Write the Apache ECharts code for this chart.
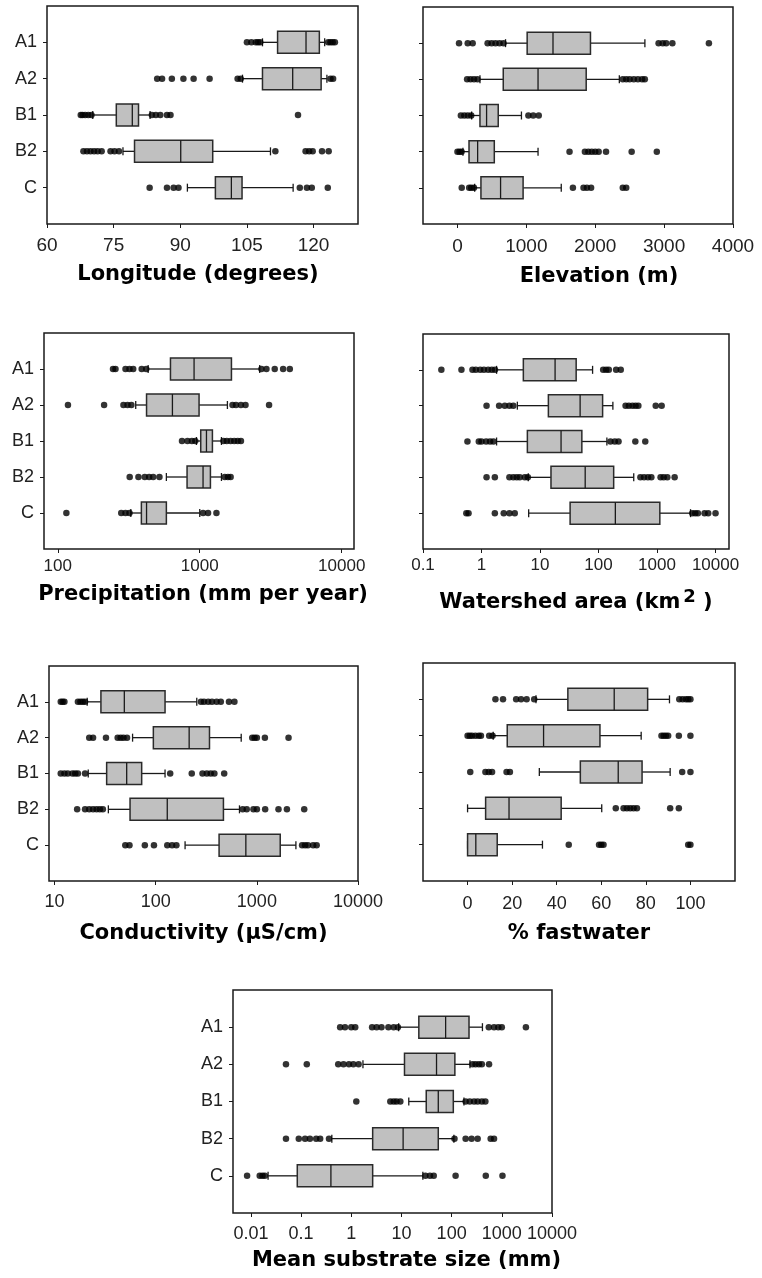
<!DOCTYPE html>
<html>
<head>
<meta charset="UTF-8">
<script src="https://cdn.jsdelivr.net/npm/echarts@6/dist/echarts.min.js"></script>
<style>
  html, body { margin: 0; padding: 0; background: #fff; }
  #main { width: 762px; height: 1278px; }
</style>
</head>
<body>
<div id="main"></div>
<script>
// groups, top to bottom
const groups = ['A1', 'A2', 'B1', 'B2', 'C'];

// box stats per group: [lower whisker, Q1, median, Q3, upper whisker]
const lonBox = [[108.5, 111.9, 118.3, 121.3, 122.5], [104, 108.5, 115.3, 121.7, 123], [70.3, 75.6, 79.2, 80.6, 83.2], [77.1, 79.7, 90.1, 97.3, 110.3], [91.6, 97.9, 101.5, 103.9, 115.4]];
const lonOut = [
  [105, 106, 107, 107.5, 108, 123.3, 123.8, 124.3, 124.8],
  [84.8, 85.9, 88.1, 90.7, 93, 96.6, 102.9, 103.6, 123.8, 124.4],
  [67.6, 68, 68.6, 69.3, 70, 83.6, 84.5, 85.5, 87, 87.8, 116.5],
  [68.2, 69, 69.8, 70.6, 71.4, 72.3, 74.3, 75.2, 76.2, 111.4, 118.2, 119, 119.8, 121.9, 123.4],
  [83.1, 87, 88.5, 89.6, 116.9, 118.5, 119.6, 123.2]
];

const eleBox = [[698, 1012, 1387, 1931, 2721], [327, 665, 1170, 1869, 2350], [206, 327, 423, 592, 929], [80, 168, 293, 535, 1170], [250, 341, 626, 953, 1507]];
const eleOut = [
  [23, 149, 221, 438, 496, 553, 611, 669, 2920, 2980, 3030, 3120, 3650],
  [140, 190, 240, 290, 2400, 2450, 2500, 2560, 2620, 2680, 2720],
  [50, 100, 150, 200, 1030, 1100, 1180],
  [0, 30, 60, 1627, 1850, 1900, 1950, 2000, 2050, 2157, 2529, 2894],
  [62, 170, 200, 240, 1676, 1830, 1880, 1940, 2400, 2450]
];

const preBox = [[433, 622, 912, 1672, 2645], [354, 422, 642, 989, 1566], [948, 1016, 1115, 1228, 1422], [582, 814, 1055, 1189, 1422], [327, 388, 422, 582, 1000]];
const preOut = [
  [245, 255, 300, 320, 340, 390, 420, 2720, 2950, 3373, 3866, 4307],
  [118, 212, 290, 310, 330, 1700, 1800, 1950, 2100, 3077],
  [750, 820, 880, 930, 1470, 1550, 1650, 1750, 1850, 1950],
  [321, 370, 410, 440, 470, 520, 1500, 1580, 1650],
  [115, 280, 300, 320, 1055, 1144, 1311]
];

const watBox = [[1.81, 5.19, 18.1, 41.5, 79.2], [4.1, 13.9, 48.5, 117.5, 176], [1.81, 6.08, 22.9, 51.9, 139], [6.3, 15.4, 59.2, 181.6, 400], [6.4, 32.7, 194, 1117, 3742]];
const watOut = [
  [0.206, 0.454, 0.7, 0.8, 0.95, 1.1, 1.3, 1.5, 1.7, 120, 135, 150, 200, 240],
  [1.22, 2.0, 2.5, 3.0, 3.5, 290, 330, 380, 430, 480, 950, 1200],
  [0.575, 0.9, 1.0, 1.2, 1.4, 1.6, 160, 190, 220, 426, 630],
  [1.22, 1.69, 3.0, 3.5, 4.0, 4.5, 5.5, 6.2, 520, 600, 700, 800, 1150, 1300, 1500, 2000],
  [0.55, 0.6, 1.69, 2.4, 3.0, 3.7, 4000, 4500, 5000, 6500, 7500, 10000]
];

const conBox = [[21, 28.7, 48.9, 123.6, 254.5], [59, 94.7, 214, 340, 700], [21.5, 32.7, 51.6, 72.6, 123.6], [34, 55.7, 130, 467, 673], [195, 423, 778, 1702, 2432]];
const conOut = [
  [11.5, 12, 12.5, 17, 18, 19, 20, 280, 300, 330, 360, 400, 440, 530, 600],
  [22, 24, 32.2, 42, 45, 48, 52, 900, 950, 1000, 1200, 2057],
  [11.5, 12.5, 13.5, 15, 16, 17, 20, 139, 227, 290, 320, 350, 380, 475],
  [16.7, 20, 22, 24, 26, 28, 30, 724, 794, 925, 1000, 1208, 1636, 1982, 2938],
  [50, 55, 78, 96, 130, 145, 160, 2800, 3000, 3200, 3600, 3900]
];

const fastBox = [[30.7, 45, 65.8, 80.8, 90.6], [11.5, 17.8, 34.1, 59.4, 77.9], [32.2, 50.6, 67.6, 78.3, 90.9], [0, 8.1, 18.6, 42, 60.2], [0, 0, 3.7, 13.3, 33.6]];
const fastOut = [
  [12.5, 15.9, 21.8, 24, 26.5, 29.9, 95, 96.5, 98, 99, 100],
  [0, 1, 2, 3.5, 5, 6, 9.7, 11.2, 87, 88, 89, 90, 94.8, 100],
  [1.2, 8, 9.5, 11, 17.5, 19, 96.3, 100],
  [66.5, 70, 71.5, 73, 74.5, 76, 90.9, 94.8],
  [45.4, 59, 60, 61, 99, 100]
];

const subBox = [[8.8, 22.2, 75.9, 222, 411], [1.71, 11.5, 50, 116, 232], [14, 31.2, 54.2, 108, 176], [0.41, 2.67, 10.8, 54.2, 111], [0.022, 0.084, 0.393, 2.67, 26.7]];
const subOut = [
  [0.6, 0.75, 1.0, 1.2, 2.6, 3.2, 4, 5.5, 7, 8.5, 550, 700, 850, 1000, 3020],
  [0.05, 0.13, 0.55, 0.7, 0.9, 1.1, 1.4, 260, 300, 350, 400, 557],
  [1.26, 6, 7, 8, 9.5, 190, 230, 280, 330, 400, 470],
  [0.05, 0.09, 0.12, 0.15, 0.2, 0.24, 0.36, 114, 190, 250, 330, 600, 700],
  [0.0084, 0.015, 0.017, 0.019, 30, 37, 44, 120, 479, 1030]
];

// tick labels on the value axes
const lonTicks = [60, 75, 90, 105, 120];
const eleTicks = [0, 1000, 2000, 3000, 4000];
const preTicks = [100, 1000, 10000];
const watTicks = [0.1, 1, 10, 100, 1000, 10000];
const conTicks = [10, 100, 1000, 10000];
const fastTicks = [0, 20, 40, 60, 80, 100];
const subTicks = [0.01, 0.1, 1, 10, 100, 1000, 10000];

const panels = [
  { box: lonBox, out: lonOut, ticks: lonTicks, type: 'value', min: 60, max: 130, name: 'Longitude (degrees)',
    grid: { left: 47, top: 6, width: 311, height: 218 }, cats: true, fs: 19, margin: 12, gap: 40, pad: [0, 9, 0, 0] },
  { box: eleBox, out: eleOut, ticks: eleTicks, type: 'value', min: -500, max: 4000, name: 'Elevation (m)',
    grid: { left: 423, top: 7, width: 310, height: 217 }, cats: false, fs: 19, margin: 13, gap: 42, pad: [0, 0, 0, 42] },
  { box: preBox, out: preOut, ticks: preTicks, type: 'log', min: 80, max: 12200, name: 'Precipitation (mm per year)',
    grid: { left: 44, top: 333, width: 310, height: 216 }, cats: true, fs: 17, margin: 9, gap: 35, pad: [0, 0, 0, 8] },
  { box: watBox, out: watOut, ticks: watTicks, type: 'log', min: 0.1, max: 17000, name: '{t|Watershed area (km}{s|2}{t| )}',
    grid: { left: 423, top: 334, width: 306, height: 215 }, cats: false, fs: 17, margin: 8, gap: 39, pad: [0, 0, 0, 0] },
  { box: conBox, out: conOut, ticks: conTicks, type: 'log', min: 8.8, max: 10000, name: 'Conductivity (\u00b5S/cm)',
    grid: { left: 49, top: 666, width: 309, height: 215 }, cats: true, fs: 18, margin: 12, gap: 42, pad: [0, 0, 0, 0] },
  { box: fastBox, out: fastOut, ticks: fastTicks, type: 'value', min: -20, max: 120, name: '% fastwater',
    grid: { left: 423, top: 663, width: 312, height: 218 }, cats: false, fs: 18, margin: 14, gap: 42, pad: [0, 0, 0, 0] },
  { box: subBox, out: subOut, ticks: subTicks, type: 'log', min: 0.0044, max: 10000, name: 'Mean substrate size (mm)',
    grid: { left: 233, top: 990, width: 319, height: 223 }, cats: true, fs: 18, margin: 12, gap: 37, pad: [0, 0, 0, 28] }
];

const BOX_H = 22;
const CAP_H = 8;
const INK = '#1a1a1a';

function renderBox(params, api) {
  const row = api.value(0);
  const p = [1, 2, 3, 4, 5].map(k => api.coord([api.value(k), row]));
  const cy = p[0][1];
  const h = BOX_H / 2, c = CAP_H / 2;
  const seg = (x1, y1, x2, y2) => ({ type: 'line', shape: { x1, y1, x2, y2 }, style: { stroke: INK, lineWidth: 1.3 } });
  return {
    type: 'group',
    children: [
      seg(p[0][0], cy, p[1][0], cy),
      seg(p[3][0], cy, p[4][0], cy),
      seg(p[0][0], cy - c, p[0][0], cy + c),
      seg(p[4][0], cy - c, p[4][0], cy + c),
      { type: 'rect', shape: { x: p[1][0], y: cy - h, width: p[3][0] - p[1][0], height: BOX_H },
        style: { fill: '#c0c0c0', stroke: '#2a2a2a', lineWidth: 1.5 } },
      seg(p[2][0], cy - h, p[2][0], cy + h)
    ]
  };
}

const labelFont = 'Liberation Sans, Arial, sans-serif';
const titleFont = 'DejaVu Sans, sans-serif';
const option = { animation: false, backgroundColor: '#fff', grid: [], xAxis: [], yAxis: [], series: [] };

panels.forEach((pn, i) => {
  option.grid.push(Object.assign({ show: true, borderColor: INK, borderWidth: 1.5, backgroundColor: 'transparent', outerBoundsMode: 'none', containLabel: false }, pn.grid));
  option.xAxis.push({
    gridIndex: i, type: pn.type, logBase: 10, min: pn.min, max: pn.max,
    axisLine: { show: false, onZero: false },
    axisTick: { show: true, inside: false, length: 4, lineStyle: { color: INK }, customValues: pn.ticks },
    axisLabel: { customValues: pn.ticks, fontFamily: labelFont, fontSize: pn.fs, color: '#222', margin: pn.margin,
      formatter: v => String(+Number(v).toPrecision(6)) },
    splitLine: { show: false },
    name: pn.name, nameLocation: 'middle', nameGap: pn.gap,
    nameTextStyle: {
      fontFamily: titleFont, fontWeight: 'bold', fontSize: 21, color: '#000', padding: pn.pad,
      rich: {
        t: { fontFamily: titleFont, fontWeight: 'bold', fontSize: 21, color: '#000' },
        s: { fontFamily: titleFont, fontWeight: 'bold', fontSize: 18, color: '#000', padding: [0, 0, 12, 3] }
      }
    }
  });
  option.yAxis.push({
    gridIndex: i, type: 'value', min: 0, max: 6, inverse: true,
    axisLine: { show: false, onZero: false },
    axisTick: { show: true, length: 4, lineStyle: { color: INK }, customValues: [1, 2, 3, 4, 5] },
    axisLabel: { show: pn.cats, customValues: [1, 2, 3, 4, 5], fontFamily: labelFont, fontSize: 18, color: '#222', margin: 10,
      formatter: v => groups[Math.round(v) - 1] || '' },
    splitLine: { show: false }
  });
  option.series.push({
    type: 'custom', xAxisIndex: i, yAxisIndex: i, renderItem: renderBox,
    encode: { x: [1, 2, 3, 4, 5], y: 0 },
    data: pn.box.map((b, k) => [k + 1].concat(b)), z: 2
  });
  option.series.push({
    type: 'scatter', xAxisIndex: i, yAxisIndex: i, symbol: 'circle', symbolSize: 6.5,
    itemStyle: { color: '#000' }, z: 3,
    data: pn.out.flatMap((vals, k) => vals.map(v => [v, k + 1]))
  });
});

const chart = echarts.init(document.getElementById('main'));
chart.setOption(option);
</script>
</body>
</html>
